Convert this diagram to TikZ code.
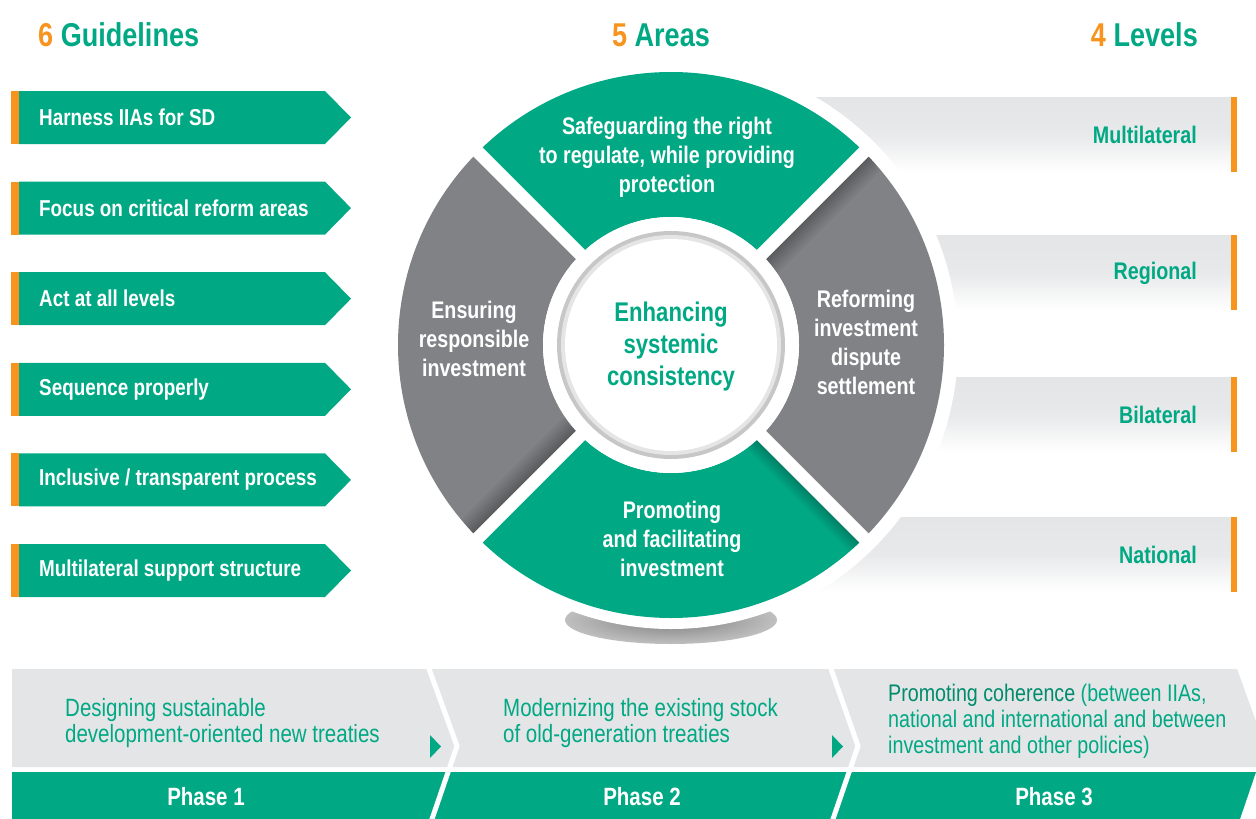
\documentclass[tikz,border=0pt]{standalone}
\usepackage{fontspec}
\setmainfont{Liberation Sans}[FakeStretch=0.82]
\usetikzlibrary{calc}
\definecolor{ugreen}{RGB}{0,168,132}
\definecolor{dgreen}{RGB}{0,140,108}
\definecolor{uorange}{RGB}{247,148,30}
\definecolor{ugray}{RGB}{128,130,134}
\definecolor{lgray}{RGB}{228,229,231}
\pgfdeclareradialshading{softshadow}{\pgfpoint{0bp}{0bp}}{color(0bp)=(black!50); color(20bp)=(black!30); color(50bp)=(white)}
\begin{document}
\begin{tikzpicture}[x=1pt,y=-1pt,
  hd/.style={font=\bfseries\fontsize{33}{36}\selectfont, inner sep=0},
  glab/.style={font=\bfseries\fontsize{23}{26}\selectfont, text=white, anchor=west, inner sep=0},
  llab/.style={font=\bfseries\fontsize{24}{26}\selectfont, text=ugreen, anchor=east, inner sep=0},
  seglab/.style={font=\bfseries\fontsize{24}{29}\selectfont, text=white, align=center, inner sep=0},
  ctrlab/.style={font=\bfseries\fontsize{27}{32}\selectfont, text=ugreen, align=center, inner sep=0},
  phlab/.style={font=\bfseries\fontsize{25}{28}\selectfont, text=white, inner sep=0},
  phtext/.style={font=\fontsize{25}{26.5}\selectfont, text=ugreen, align=left, anchor=west, inner sep=0},
  sep/.style={white, line width=5pt},
  gap/.style={white, line width=13pt},
  edgeshade/.style={black, opacity=0.015}]
\useasboundingbox (0,0) rectangle (1256,819);
\fill[white] (0,0) rectangle (1256,819);

% headings
\node[hd, anchor=west] (h1) at (38,35) {\textcolor{uorange}{6} \textcolor{ugreen}{Guidelines}};
\node[hd] (h2) at (661,35) {\textcolor{uorange}{5} \textcolor{ugreen}{Areas}};
\node[hd, anchor=east] (h3) at (1198,35) {\textcolor{uorange}{4} \textcolor{ugreen}{Levels}};

% guidelines
\foreach \i/\y/\txt in {1/91/{Harness IIAs for SD}, 2/181.6/{Focus on critical reform areas}, 3/272.2/{Act at all levels}, 4/362.8/{Sequence properly}, 5/453.4/{Inclusive / transparent process}, 6/544/{Multilateral support structure}} {
  \fill[uorange] (11,\y) rectangle (19,\y+53);
  \fill[ugreen] (19,\y) -- (325,\y) -- (351,\y+26.5) -- (325,\y+53) -- (19,\y+53) -- cycle;
  \node[glab] (g\i) at (39,\y+26.5) {\txt};
}

% levels
\foreach \i/\y/\txt in {1/97/Multilateral, 2/235/Regional, 3/377/Bilateral, 4/517/National} {
  \shade[top color=lgray, bottom color=white, middle color=lgray!85] (790,\y) rectangle (1231,\y+75);
  \fill[uorange] (1231,\y) rectangle (1237,\y+75);
  \node[llab] (l\i) at (1197,\y+38) {\txt};
}

% wheel
\coordinate (C) at (671,345);
\fill[white] (C) circle (287);
\shade[shading=softshadow] (671,620) ellipse (106 and 24);
\fill[white] (C) circle (284);

\fill[ugreen] ([shift={(225:273)}]C) arc[start angle=225, end angle=315, radius=273]
  -- ([shift={(315:128)}]C) arc[start angle=315, end angle=225, radius=128] -- cycle;
\fill[ugreen] ([shift={(45:273)}]C) arc[start angle=45, end angle=135, radius=273]
  -- ([shift={(135:128)}]C) arc[start angle=135, end angle=45, radius=128] -- cycle;
\fill[ugray] ([shift={(135:273)}]C) arc[start angle=135, end angle=225, radius=273]
  -- ([shift={(225:128)}]C) arc[start angle=225, end angle=135, radius=128] -- cycle;
\fill[ugray] ([shift={(-45:273)}]C) arc[start angle=-45, end angle=45, radius=273]
  -- ([shift={(45:128)}]C) arc[start angle=45, end angle=-45, radius=128] -- cycle;
% soft shadows along some gaps
\begin{scope}
  \clip ([shift={(-45:273)}]C) arc[start angle=-45, end angle=45, radius=273] -- (C) -- cycle;
  \foreach \w in {14,16,...,50} {
    \draw[edgeshade, line width=\w pt] ([shift={(315:100)}]C) -- ([shift={(315:285)}]C);
  }
\end{scope}
\begin{scope}
  \clip ([shift={(135:273)}]C) arc[start angle=135, end angle=225, radius=273] -- (C) -- cycle;
  \foreach \w in {14,16,...,50} {
    \draw[edgeshade, line width=\w pt] ([shift={(135:100)}]C) -- ([shift={(135:285)}]C);
  }
\end{scope}
\begin{scope}
  \clip ([shift={(45:273)}]C) arc[start angle=45, end angle=135, radius=273] -- (C) -- cycle;
  \foreach \w in {14,16,...,40} {
    \draw[edgeshade, line width=\w pt] ([shift={(45:100)}]C) -- ([shift={(45:285)}]C);
  }
\end{scope}
\draw[gap] ([shift={(45:100)}]C) -- ([shift={(45:285)}]C);
\draw[gap] ([shift={(135:100)}]C) -- ([shift={(135:285)}]C);
\draw[gap] ([shift={(225:100)}]C) -- ([shift={(225:285)}]C);
\draw[gap] ([shift={(315:100)}]C) -- ([shift={(315:285)}]C);
\fill[white] (C) circle (128);
\fill[black!22] (C) circle (114);
\fill[black!10] (C) circle (110);
\fill[white] (C) circle (106);

\node[seglab] (a1) at (667,157) {Safeguarding the right\\to regulate, while providing\\protection};
\node[seglab] (a2) at (474,339) {Ensuring\\responsible\\investment};
\node[seglab] (a3) at (866,342) {Reforming\\investment\\dispute\\settlement};
\node[seglab] (a4) at (672,539) {Promoting\\and facilitating\\investment};
\node[ctrlab] (a5) at (671,347) {Enhancing\\systemic\\consistency};

% phases
\fill[lgray] (12,669) -- (1237,669) -- (1265,746) -- (1258,767) -- (12,767) -- cycle;
\fill[ugreen] (12,772) -- (1256,772) -- (1240,819) -- (12,819) -- cycle;
\draw[sep] (428,666) -- (457,746) -- (431,822);
\draw[sep] (830,666) -- (858,746) -- (832,822);
\fill[ugreen] (430,735) -- (441,746.5) -- (430,758) -- cycle;
\fill[ugreen] (832,735) -- (843,746.5) -- (832,758) -- cycle;

\node[phtext] (t1) at (65,723) {Designing sustainable\\development-oriented new treaties};
\node[phtext] (t2) at (503,723) {Modernizing the existing stock\\of old-generation treaties};
\node[phtext, font=\fontsize{24}{26}\selectfont] (t3) at (888,721) {\textcolor{dgreen}{Promoting coherence} (between IIAs,\\national and international and between\\investment and other policies)};
\node[phlab] (p1) at (206,797) {Phase 1};
\node[phlab] (p2) at (642,797) {Phase 2};
\node[phlab] (p3) at (1054,797) {Phase 3};
\end{tikzpicture}
\end{document}
